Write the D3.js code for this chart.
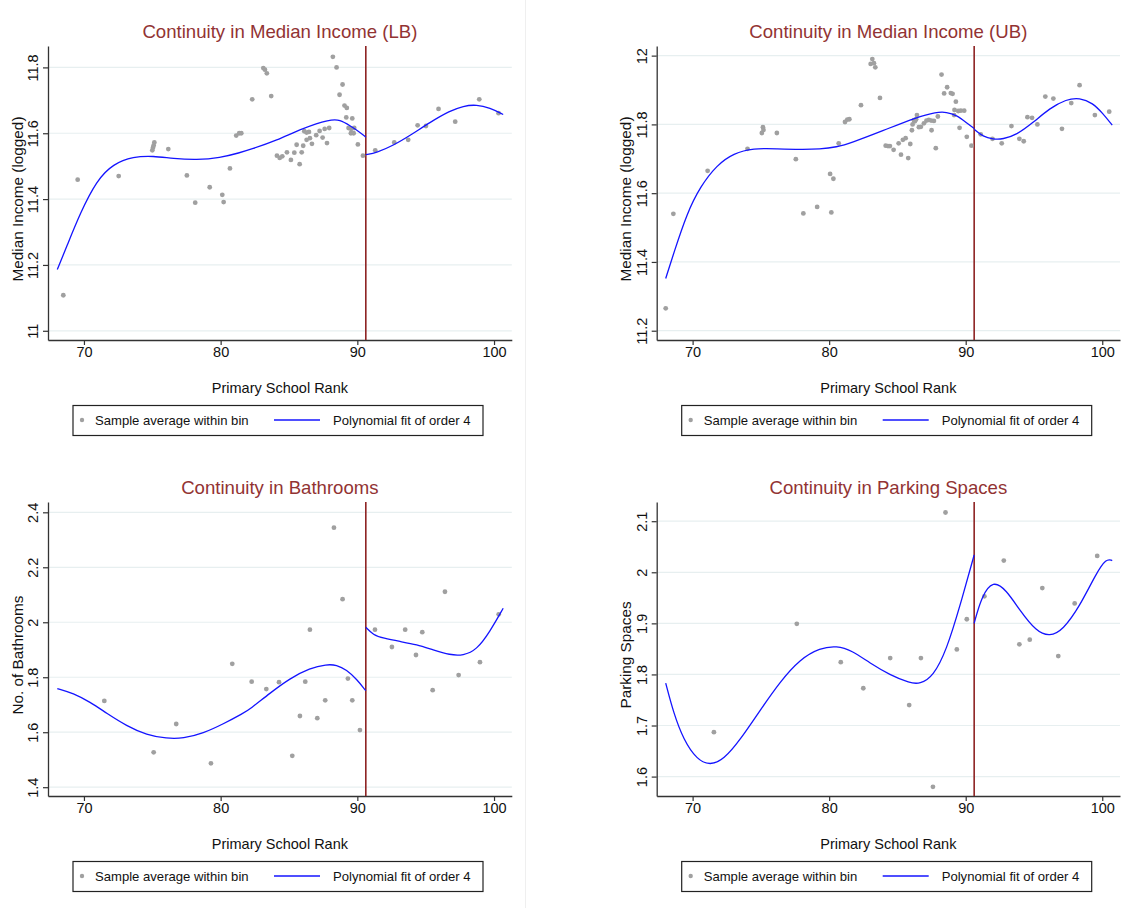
<!DOCTYPE html>
<html>
<head>
<meta charset="utf-8">
<script src="https://cdn.jsdelivr.net/npm/d3@7"></script>
<style>
  body { margin: 0; background: #fff; }
  svg { font-family: "Liberation Sans", Arial, sans-serif; }
</style>
</head>
<body>
<svg id="rd" width="1121" height="908"></svg>
<script>
// cutoff rank and x ticks shared by all four panels
var cutoff = 90.62;
var xTicks = [70, 80, 90, 100];

// Median income (LB): binned means
var lbBins = [[68.49,11.108],[69.54,11.459],[72.54,11.47],[75.00,11.548],[75.05,11.556],[75.10,11.563],[75.15,11.572],
  [76.17,11.552],[77.53,11.472],[78.14,11.389],[79.20,11.436],[80.12,11.413],[80.22,11.391],[80.68,11.493],
  [81.14,11.593],[81.36,11.600],[81.51,11.600],[82.31,11.703],[83.12,11.798],[83.24,11.793],[83.38,11.782],
  [83.70,11.713],[84.12,11.532],[84.32,11.525],[84.51,11.530],[84.85,11.542],[85.14,11.519],[85.39,11.541],
  [85.56,11.565],[85.78,11.506],[85.93,11.542],[86.04,11.562],[86.12,11.606],[86.29,11.602],[86.46,11.604],
  [86.29,11.580],[86.53,11.585],[86.68,11.568],[86.99,11.594],[87.24,11.607],[87.46,11.587],[87.61,11.613],
  [87.78,11.570],[87.94,11.616],[88.21,11.832],[88.48,11.800],[88.70,11.717],[88.92,11.748],[89.06,11.684],
  [89.19,11.648],[89.23,11.677],[89.36,11.616],[89.53,11.600],[89.55,11.613],[89.63,11.645],[89.73,11.600],
  [89.77,11.616],[90.04,11.566],[90.41,11.532],[91.31,11.548],[92.70,11.572],[93.72,11.580],[94.41,11.624],
  [95.02,11.622],[95.94,11.674],[97.16,11.635],[98.92,11.703],[100.33,11.661]];
var lbFitLeft = [[68.05,11.186],[68.73,11.255],[69.71,11.356],[70.93,11.457],[72.14,11.507],[73.61,11.529],
  [75.07,11.531],[76.53,11.523],[78.24,11.519],[79.95,11.525],[81.41,11.541],[82.2,11.551],[84.09,11.578],
  [86.04,11.616],[88.0,11.642],[88.73,11.641],[89.46,11.623],[90.19,11.603],[90.62,11.588]];
var lbFitRight = [[90.62,11.535],[91.41,11.541],[92.63,11.563],[93.85,11.593],[95.31,11.633],[96.77,11.668],
  [97.75,11.683],[98.72,11.687],[99.7,11.677],[100.67,11.657]];
var lbTicks = [11, 11.2, 11.4, 11.6, 11.8];

// Median income (UB)
var ubBins = [[68.03,11.265],[68.59,11.540],[71.10,11.665],[74.02,11.729],[75.07,11.775],[75.15,11.792],[75.19,11.784],
  [76.17,11.775],[77.56,11.699],[78.11,11.541],[79.12,11.560],[80.07,11.656],[80.16,11.544],[80.31,11.642],
  [80.70,11.745],[81.16,11.807],[81.33,11.814],[81.48,11.815],[82.33,11.856],[83.04,11.976],[83.16,11.990],
  [83.28,11.978],[83.38,11.966],[83.72,11.877],[84.14,11.738],[84.31,11.737],[84.45,11.737],[84.72,11.726],
  [85.09,11.745],[85.26,11.712],[85.40,11.755],[85.60,11.760],[85.79,11.702],[85.94,11.743],[86.06,11.783],
  [86.11,11.800],[86.21,11.812],[86.28,11.809],[86.37,11.815],[86.43,11.827],[86.57,11.792],[86.72,11.793],
  [86.94,11.803],[87.13,11.811],[87.30,11.813],[87.47,11.811],[87.50,11.783],[87.67,11.810],[87.81,11.731],
  [87.96,11.823],[88.23,11.945],[88.42,11.890],[88.64,11.908],[88.91,11.891],[89.04,11.889],[89.15,11.827],
  [89.18,11.842],[89.28,11.866],[89.45,11.839],[89.55,11.790],[89.64,11.840],[89.89,11.840],[90.08,11.764],
  [90.42,11.738],[91.10,11.771],[91.96,11.758],[92.64,11.745],[93.35,11.795],[93.93,11.758],[94.25,11.751],
  [94.52,11.821],[94.86,11.819],[95.25,11.800],[95.83,11.881],[96.42,11.875],[97.05,11.787],[97.73,11.862],
  [98.34,11.914],[99.46,11.827],[100.51,11.837]];
var ubFitLeft = [[68.03,11.352],[68.61,11.425],[69.59,11.542],[70.56,11.619],[71.78,11.682],[73.0,11.716],
  [74.46,11.731],[76.17,11.729],[77.87,11.727],[79.33,11.728],[80.55,11.734],[81.6,11.746],[83.96,11.782],
  [86.4,11.821],[87.86,11.836],[88.59,11.836],[89.33,11.827],[90.06,11.805],[90.62,11.788]];
var ubFitRight = [[90.62,11.786],[91.27,11.764],[92.0,11.757],[92.73,11.757],[93.71,11.769],[94.93,11.805],
  [96.15,11.847],[97.37,11.873],[98.34,11.878],[99.31,11.862],[100.04,11.832],[100.73,11.798]];
var ubTicks = [11.2, 11.4, 11.6, 11.8, 12];

// Bathrooms
var bathBins = [[71.49,1.714],[75.10,1.527],[76.75,1.630],[79.29,1.487],[80.85,1.849],[82.27,1.784],[83.34,1.757],
  [84.27,1.782],[85.24,1.514],[85.80,1.659],[86.19,1.784],[86.53,1.973],[87.07,1.651],[87.65,1.716],[88.29,2.344],
  [88.92,2.084],[89.31,1.795],[89.63,1.716],[90.19,1.608],[91.29,1.973],[92.53,1.910],[93.50,1.973],[94.29,1.881],
  [94.75,1.964],[95.51,1.753],[96.41,2.111],[97.41,1.808],[98.97,1.855],[100.34,2.029]];
var bathFitLeft = [[68.05,1.759],[69.22,1.742],[70.44,1.71],[71.66,1.669],[73.12,1.623],[74.59,1.59],[76.05,1.577],
  [77.26,1.577],[78.73,1.596],[80.19,1.63],[81.65,1.669],[82.14,1.684],[83.6,1.742],[85.07,1.796],[86.53,1.833],
  [87.75,1.847],[88.48,1.845],[89.21,1.827],[89.95,1.793],[90.62,1.751]];
var bathFitRight = [[90.62,1.982],[91.16,1.954],[91.9,1.942],[93.12,1.93],[94.34,1.919],[95.55,1.899],[96.77,1.881],
  [97.75,1.879],[98.72,1.899],[99.7,1.966],[100.67,2.051]];
var bathTicks = [1.4, 1.6, 1.8, 2, 2.2, 2.4];

// Parking spaces
var parkBins = [[71.56,1.687],[77.63,1.899],[80.85,1.824],[82.50,1.773],[84.47,1.832],[85.86,1.740],[86.72,1.832],
  [87.60,1.580],[88.52,2.117],[89.35,1.849],[90.08,1.908],[91.37,1.953],[92.79,2.023],[93.93,1.859],[94.69,1.868],
  [95.61,1.969],[96.78,1.836],[97.98,1.939],[99.63,2.032]];
var parkFitLeft = [[68.03,1.783],[68.61,1.724],[69.34,1.672],[70.32,1.633],[71.29,1.622],[72.27,1.633],[73.49,1.672],
  [74.95,1.73],[76.41,1.786],[77.87,1.83],[79.33,1.852],[80.56,1.856],[81.65,1.847],[82.99,1.822],[84.45,1.799],
  [85.91,1.783],[86.64,1.781],[87.62,1.796],[88.6,1.848],[89.57,1.933],[90.62,2.034]];
var parkFitRight = [[90.62,1.9],[91.15,1.952],[92.0,1.985],[92.98,1.965],[93.95,1.926],[95.17,1.884],[96.15,1.874],
  [97.12,1.887],[98.34,1.933],[99.56,1.998],[100.29,2.027],[100.73,2.023]];
var parkTicks = [1.6, 1.7, 1.8, 1.9, 2, 2.1];

var svg = d3.select("#rd");

// faint divider between the two columns
svg.append("line")
  .attr("x1", 525.5).attr("x2", 525.5).attr("y1", 0).attr("y2", 908)
  .attr("stroke", "#efefef").attr("stroke-width", 1);

drawPanel({ left: 48, right: 511.8, top: 46, bottom: 340, yDomain: [10.972, 11.865],
  title: "Continuity in Median Income (LB)", yLabel: "Median Income (logged)",
  bins: lbBins, fits: [lbFitLeft, lbFitRight], yTicks: lbTicks });
drawPanel({ left: 656.7, right: 1120, top: 46, bottom: 340, yDomain: [11.173, 12.028],
  title: "Continuity in Median Income (UB)", yLabel: "Median Income (logged)",
  bins: ubBins, fits: [ubFitLeft, ubFitRight], yTicks: ubTicks });
drawPanel({ left: 48, right: 511.8, top: 502, bottom: 796, yDomain: [1.368, 2.4375],
  title: "Continuity in Bathrooms", yLabel: "No. of Bathrooms",
  bins: bathBins, fits: [bathFitLeft, bathFitRight], yTicks: bathTicks });
drawPanel({ left: 656.7, right: 1120, top: 502, bottom: 796, yDomain: [1.562, 2.1376],
  title: "Continuity in Parking Spaces", yLabel: "Parking Spaces",
  bins: parkBins, fits: [parkFitLeft, parkFitRight], yTicks: parkTicks });

function drawPanel(o) {
  var g = svg.append("g");
  var x = d3.scaleLinear().domain([67.37, 101.3]).range([o.left, o.right]);
  var y = d3.scaleLinear().domain(o.yDomain).range([o.bottom, o.top]);
  var mid = (o.left + o.right) / 2;

  // grid
  g.selectAll("line.grid").data(o.yTicks).enter().append("line")
    .attr("class", "grid")
    .attr("x1", o.left).attr("x2", o.right)
    .attr("y1", function(d) { return y(d); }).attr("y2", function(d) { return y(d); })
    .attr("stroke", "#e7eff0").attr("stroke-width", 1.2);

  // y axis, labels turned up the way Stata does it
  var ya = g.append("g").attr("transform", "translate(" + o.left + ",0)")
    .call(d3.axisLeft(y).tickValues(o.yTicks).tickSize(5).tickSizeOuter(0).tickFormat(d3.format("")));
  ya.select(".domain").attr("stroke", "#333").attr("stroke-width", 1.3);
  ya.selectAll(".tick line").attr("stroke", "#333").attr("stroke-width", 1.2);
  ya.selectAll(".tick text")
    .attr("transform", "rotate(-90)")
    .attr("x", 0).attr("y", -10).attr("dy", 0)
    .attr("text-anchor", "middle")
    .attr("fill", "#111").style("font-size", "14.5px").style("font-family", "Liberation Sans, Arial");

  // x axis
  var xa = g.append("g").attr("transform", "translate(0," + o.bottom + ")")
    .call(d3.axisBottom(x).tickValues(xTicks).tickSize(5).tickSizeOuter(0));
  xa.select(".domain").attr("stroke", "#333").attr("stroke-width", 1.3);
  xa.selectAll(".tick line").attr("stroke", "#333").attr("stroke-width", 1.2);
  xa.selectAll(".tick text").attr("y", 17).attr("dy", 0)
    .attr("fill", "#111").style("font-size", "14.5px").style("font-family", "Liberation Sans, Arial");

  // cutoff
  g.append("line")
    .attr("x1", x(cutoff)).attr("x2", x(cutoff)).attr("y1", o.top).attr("y2", o.bottom)
    .attr("stroke", "#8e2424").attr("stroke-width", 1.6);

  // bins
  g.selectAll("circle.bin").data(o.bins).enter().append("circle")
    .attr("class", "bin")
    .attr("cx", function(d) { return x(d[0]); })
    .attr("cy", function(d) { return y(d[1]); })
    .attr("r", 2.4).attr("fill", "#a0a0a0");

  // fitted polynomial, one piece each side of the cutoff
  var line = d3.line()
    .x(function(d) { return x(d[0]); })
    .y(function(d) { return y(d[1]); })
    .curve(d3.curveBasis);
  o.fits.forEach(function(f) {
    g.append("path").attr("d", line(f))
      .attr("fill", "none").attr("stroke", "#1414ff").attr("stroke-width", 1.3);
  });

  // titles
  g.append("text").attr("x", mid).attr("y", o.top - 8.5)
    .attr("text-anchor", "middle").attr("fill", "#923333")
    .style("font-size", "18.6px").text(o.title);
  g.append("text").attr("x", mid).attr("y", o.bottom + 53)
    .attr("text-anchor", "middle").attr("fill", "#111")
    .style("font-size", "14.5px").text("Primary School Rank");
  g.append("text")
    .attr("transform", "translate(" + (o.left - 25.5) + "," + ((o.top + o.bottom) / 2 + 6) + ") rotate(-90)")
    .attr("text-anchor", "middle").attr("fill", "#111")
    .style("font-size", "15.3px").text(o.yLabel);

  // legend
  var lx = o.left + 25, ly = o.bottom + 65.5;
  var lg = g.append("g").attr("transform", "translate(" + lx + "," + ly + ")");
  lg.append("rect").attr("width", 410).attr("height", 30)
    .attr("fill", "#fff").attr("stroke", "#222").attr("stroke-width", 1.2);
  lg.append("circle").attr("cx", 9).attr("cy", 14.5).attr("r", 2.2).attr("fill", "#a0a0a0");
  lg.append("text").attr("x", 22).attr("y", 19.5).attr("fill", "#111")
    .style("font-size", "13.1px").text("Sample average within bin");
  lg.append("line").attr("x1", 201).attr("x2", 247).attr("y1", 14.5).attr("y2", 14.5)
    .attr("stroke", "#1414ff").attr("stroke-width", 1.3);
  lg.append("text").attr("x", 260).attr("y", 19.5).attr("fill", "#111")
    .style("font-size", "13.1px").text("Polynomial fit of order 4");
}
</script>
</body>
</html>
